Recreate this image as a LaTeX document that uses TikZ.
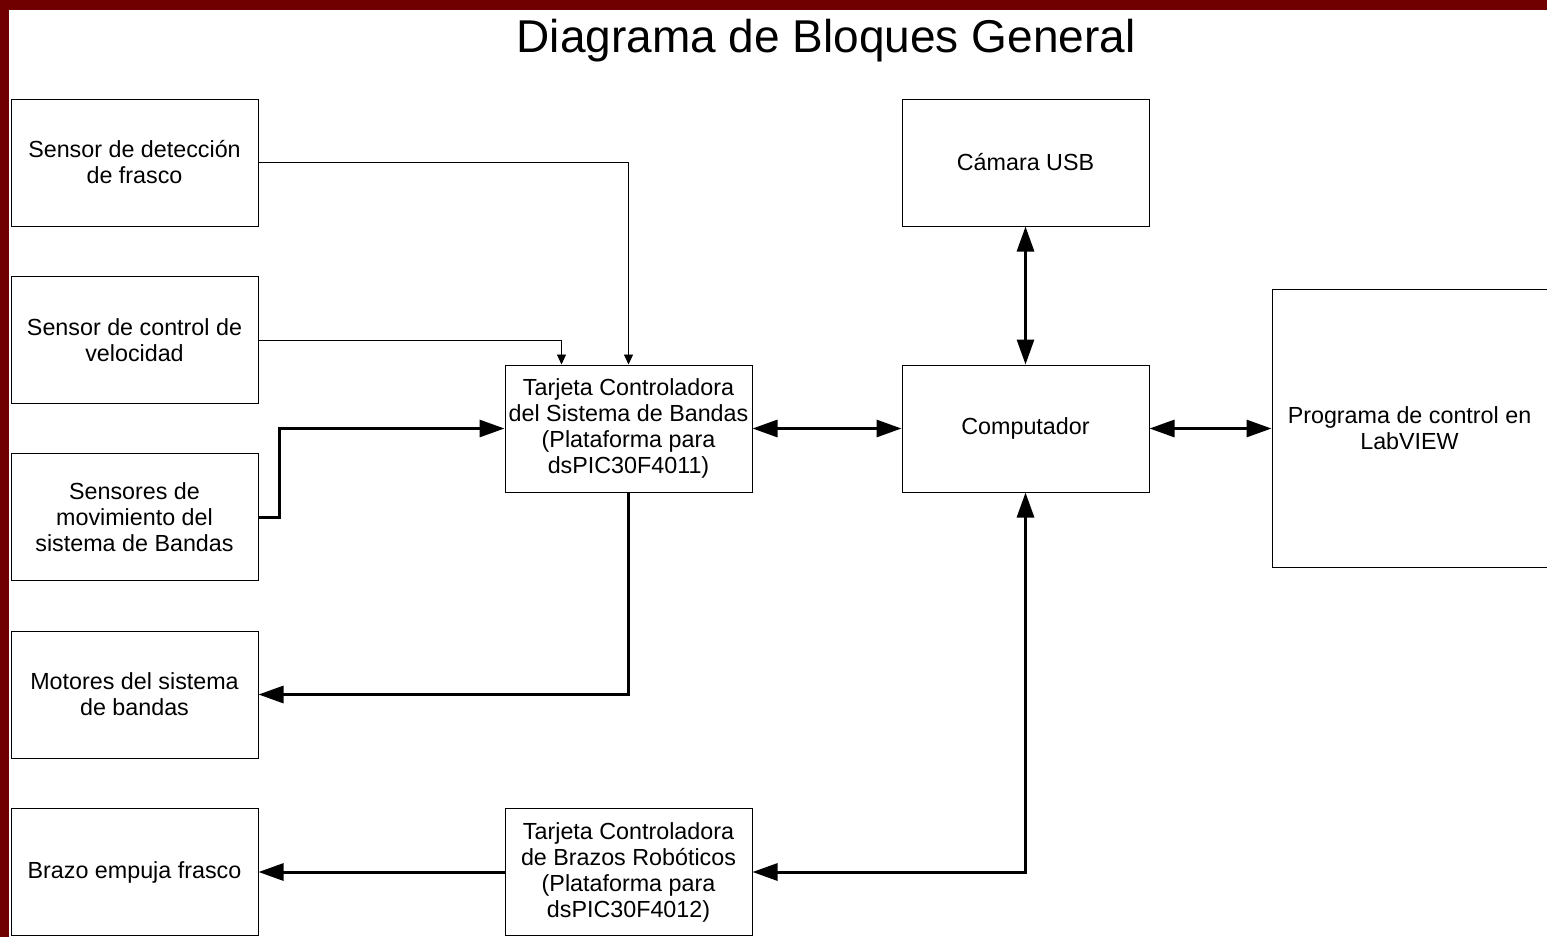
\documentclass[tikz,border=0pt]{standalone}
\usepackage{fontspec}
\setmainfont{Liberation Sans}
\usepackage{tikz}
\usetikzlibrary{arrows.meta}

\definecolor{marco}{RGB}{112,0,0}

\begin{document}
\begin{tikzpicture}[x=1pt,y=-1pt,
  bloque/.style={draw,line width=1pt,minimum width=247pt,minimum height=127pt,align=center,inner sep=0pt,font=\fontsize{23.3}{26}\selectfont},
  senal/.style={line width=0.8pt,-{Triangle[length=10pt,width=9pt]}},
  bus/.style={line width=3pt,-{Triangle[length=25pt,width=17pt]}},
  bidir/.style={line width=3pt,{Triangle[length=25pt,width=17pt]}-{Triangle[length=25pt,width=17pt]}}]
\useasboundingbox (0,0) rectangle (1547,937);
\fill[marco] (0,0) rectangle (1547,10);
\fill[marco] (0,0) rectangle (9,937);
\node[anchor=base,font=\fontsize{46}{52}\selectfont] (titulo) at (826,52) {Diagrama de Bloques General};

\node[bloque] (sdet) at (134.5,162.5) {Sensor de detección\\de frasco};
\node[bloque] (sctl) at (134.5,340) {Sensor de control de\\velocidad};
\node[bloque] (smov) at (134.5,517) {Sensores de\\movimiento del\\sistema de Bandas};
\node[bloque] (mot) at (134.5,694.5) {Motores del sistema\\de bandas};
\node[bloque] (braz) at (134.5,872) {Brazo empuja frasco};
\node[bloque] (tsb) at (628.5,428.5) {Tarjeta Controladora\\del Sistema de Bandas\\(Plataforma para\\dsPIC30F4011)};
\node[bloque] (tbr) at (628.5,872) {Tarjeta Controladora\\de Brazos Robóticos\\(Plataforma para\\dsPIC30F4012)};
\node[bloque] (cam) at (1025.5,162.5) {Cámara USB};
\node[bloque] (comp) at (1025.5,428.5) {Computador};
\node[bloque,minimum width=275pt,minimum height=278pt] (prog) at (1409.5,428.5) {Programa de control en\\LabVIEW};

% sensores hacia la tarjeta
\draw[senal] (sdet.east) -| (tsb.north);
\draw[senal] (sctl.east) -| ([xshift=-67pt]tsb.north);
\draw[bus] (smov.east) -- ++(21,0) |- (tsb.west);
\draw[bus] (tsb.south) |- (mot.east);
\draw[bus] (tbr.west) -- (braz.east);

% enlaces con el computador
\draw[bidir] (tsb.east) -- (comp.west);
\draw[bidir] (cam.south) -- (comp.north);
\draw[bidir] (comp.east) -- (prog.west);
\draw[bidir] (tbr.east) -| (comp.south);
\end{tikzpicture}
\end{document}
